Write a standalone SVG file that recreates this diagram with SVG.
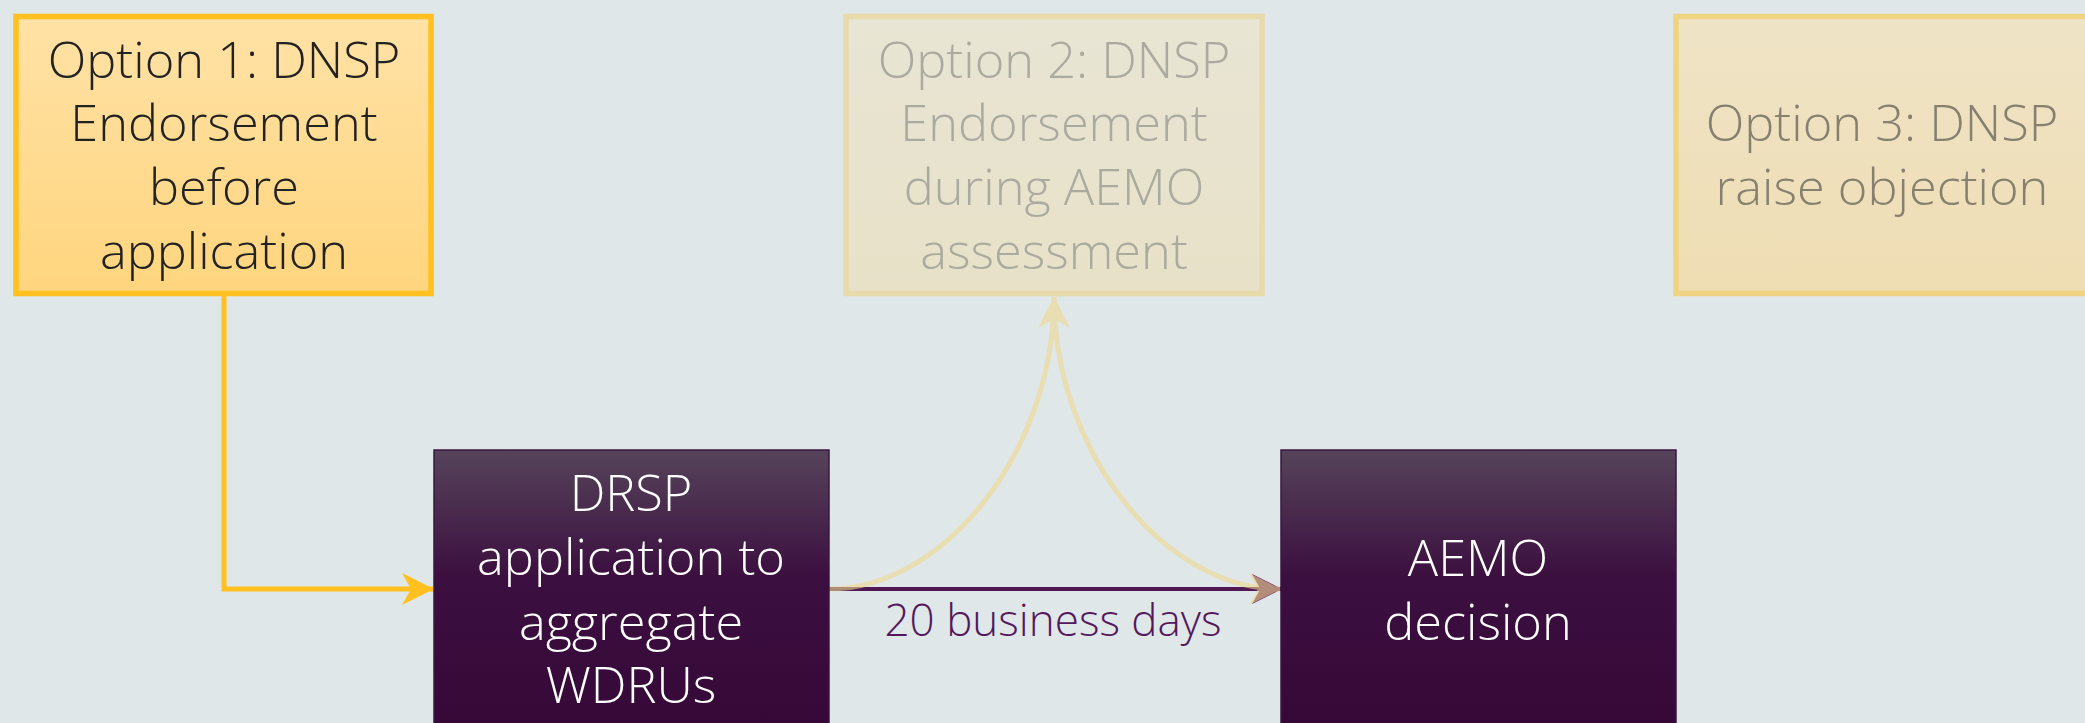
<svg xmlns="http://www.w3.org/2000/svg" width="2085" height="723" viewBox="0 0 2085 723">
  <defs>
    <linearGradient id="gOrange" x1="0" y1="0" x2="0" y2="1">
      <stop offset="0" stop-color="#FFE2A6"/>
      <stop offset="1" stop-color="#FFD57E"/>
    </linearGradient>
    <linearGradient id="gPurple" x1="0" y1="0" x2="0" y2="1">
      <stop offset="0" stop-color="#56445A"/>
      <stop offset="0.45" stop-color="#3B0F3F"/>
      <stop offset="1" stop-color="#350838"/>
    </linearGradient>
    <marker id="arrYellow" viewBox="0 0 32 32" refX="31" refY="16" markerWidth="32" markerHeight="32" markerUnits="userSpaceOnUse" orient="auto">
      <path d="M0,0 L32,16 L0,32 L9,16 Z" fill="#FFC020"/>
    </marker>
    <marker id="arrPurple" viewBox="0 0 32 32" refX="31" refY="16" markerWidth="30" markerHeight="30" markerUnits="userSpaceOnUse" orient="auto">
      <path d="M0,0 L32,16 L0,32 L9,16 Z" fill="#5A1A5E"/>
    </marker>
    <marker id="arrFaded" viewBox="0 0 32 32" refX="31" refY="16" markerWidth="32" markerHeight="32" markerUnits="userSpaceOnUse" orient="auto">
      <path d="M0,0 L32,16 L0,32 L9,16 Z" fill="#F0D98F"/>
    </marker>
  </defs>
  <style>
    .t { font-family: "Open Sans", "Noto Sans", "Liberation Sans", sans-serif; font-weight: 350; font-size: 50.5px; text-anchor: middle; }
    .opt { fill: url(#gOrange); stroke: #FFC020; stroke-width: 5.5; }
    .proc { fill: url(#gPurple); stroke: #3A1740; stroke-width: 1.5; }
    .dark { fill: #222222; }
    .white { fill: #FFFFFF; }
  </style>
  <rect x="0" y="0" width="2085" height="723" fill="#DFE7E9"/>

  <g id="connectors">
    <path d="M224,296 L224,589 L433,589" fill="none" stroke="#FFC020" stroke-width="5" marker-end="url(#arrYellow)"/>
    <path d="M829,589 L1281,589" fill="none" stroke="#4F1852" stroke-width="4" marker-end="url(#arrPurple)"/>
    <g opacity="0.6">
      <path d="M829,589 C945,589 1054,450 1054,297" fill="none" stroke="#F0D98F" stroke-width="5" marker-end="url(#arrFaded)"/>
      <path d="M1054,297 C1054,450 1163,589 1280,589" fill="none" stroke="#F0D98F" stroke-width="5" marker-end="url(#arrFaded)"/>
    </g>
    <text class="t" x="1053" y="636" style="font-size:44px" fill="#55185C">20 business days</text>
  </g>

  <g id="option1">
    <rect class="opt" x="16" y="16.5" width="415" height="277"/>
    <text class="t dark" x="224" y="77.5">Option 1: DNSP</text>
    <text class="t dark" x="224" y="141">Endorsement</text>
    <text class="t dark" x="224" y="205">before</text>
    <text class="t dark" x="224" y="269">application</text>
  </g>

  <g id="option2">
    <rect class="opt" x="846" y="16.5" width="416" height="277" opacity="0.3"/>
    <text class="t" fill="#ABAA9E" x="1054" y="77.5">Option 2: DNSP</text>
    <text class="t" fill="#ABAA9E" x="1054" y="141">Endorsement</text>
    <text class="t" fill="#ABAA9E" x="1054" y="205">during AEMO</text>
    <text class="t" fill="#ABAA9E" x="1054" y="269">assessment</text>
  </g>

  <g id="option3">
    <rect class="opt" x="1676" y="16.5" width="416" height="277" opacity="0.5"/>
    <text class="t" fill="#878070" x="1882" y="141">Option 3: DNSP</text>
    <text class="t" fill="#878070" x="1882" y="205">raise objection</text>
  </g>

  <g id="drsp">
    <rect class="proc" x="434" y="450" width="395" height="282"/>
    <text class="t white" x="631" y="511">DRSP</text>
    <text class="t white" x="631" y="575">application to</text>
    <text class="t white" x="631" y="640">aggregate</text>
    <text class="t white" x="631" y="703">WDRUs</text>
  </g>

  <g id="aemo">
    <rect class="proc" x="1281" y="450" width="395" height="282"/>
    <text class="t white" x="1478" y="576">AEMO</text>
    <text class="t white" x="1478" y="640">decision</text>
  </g>
</svg>
